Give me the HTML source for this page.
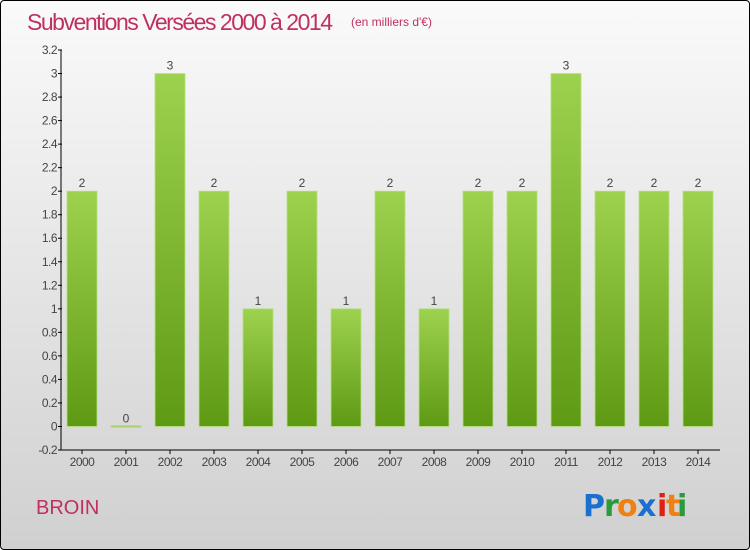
<!DOCTYPE html>
<html><head><meta charset="utf-8"><style>
html,body{margin:0;padding:0}
body{width:750px;height:550px;overflow:hidden;font-family:"Liberation Sans",sans-serif}
#wrap{position:absolute;left:0;top:0;width:748px;height:548px;border:1px solid #000;border-radius:4px;background:linear-gradient(#fafafa,#d0d0d0)}
</style></head><body>
<div id="wrap">
<svg width="750" height="550" style="position:absolute;left:-1px;top:-1px" id="svg">
<defs><linearGradient id="g" x1="0" y1="0" x2="0" y2="1"><stop offset="0" stop-color="#9dd24e"/><stop offset="1" stop-color="#5f9a14"/></linearGradient></defs>
<text x="27" y="30" font-size="23" fill="#c0305e" textLength="306">Subventions Versées 2000 à 2014</text>
<text x="351" y="26" font-size="12" fill="#c0305e">(en milliers d'€)</text>
<text x="36" y="514" font-size="20" fill="#c0305e">BROIN</text>
<g font-size="30" font-family="'DejaVu Sans',sans-serif" font-weight="bold">
<text x="583" y="516" fill="#1a6fd0">P</text><text x="604" y="516" fill="#2a9a3a">r</text><text x="617" y="516" fill="#f08010">o</text><text x="637" y="516" fill="#1a6fd0">x</text><text x="657" y="516" fill="#e02010">i</text><text x="666" y="516" fill="#f08010">t</text><text x="677" y="516" fill="#2a9a3a">i</text>
</g>
<g id="axes"></g><g id="bars"></g>
</svg></div>
<script>
const years=["2000","2001","2002","2003","2004","2005","2006","2007","2008","2009","2010","2011","2012","2013","2014"];
const values=[2,0,3,2,1,2,1,2,1,2,2,3,2,2,2];
const yTicks=["-0.2","0","0.2","0.4","0.6","0.8","1","1.2","1.4","1.6","1.8","2","2.2","2.4","2.6","2.8","3","3.2"];
(function(){
const NS="http://www.w3.org/2000/svg";
const yMin=-0.2,yMax=3.2,plotTop=50,plotBot=450;
function y(v){return plotBot-(v-yMin)/(yMax-yMin)*(plotBot-plotTop);}
function x(i){return 82+i*44;}
function mk(t,a,p){const e=document.createElementNS(NS,t);for(const k in a)e.setAttribute(k,a[k]);p.appendChild(e);return e;}
const ax=document.getElementById('axes'),bs=document.getElementById('bars');
const yl=mk('line',{x1:61,y1:plotTop,x2:61,y2:plotBot,stroke:'#000','stroke-width':1},ax);


const xl=mk('line',{x1:61,y1:plotBot,x2:720,y2:plotBot,stroke:'#000','stroke-width':1},ax);


yTicks.forEach(t=>{const v=parseFloat(t),yy=y(v);
mk('line',{x1:58,y1:yy,x2:62,y2:yy,stroke:'#000'},ax);
const tx=mk('text',{x:57,y:yy+4,'font-size':12,fill:'#444','text-anchor':'end','letter-spacing':'-0.5'},ax);tx.textContent=t;

});
years.forEach((yr,i)=>{const cx=x(i);
mk('line',{x1:cx,y1:plotBot,x2:cx,y2:plotBot+4,stroke:'#000'},ax);
const tx=mk('text',{x:cx,y:plotBot+16,'font-size':12,fill:'#444','text-anchor':'middle','letter-spacing':'-0.5'},ax);tx.textContent=yr;


const v=values[i];const y0=y(0),yv=y(v);
const h=Math.max(Math.abs(y0-yv),2);
const r=mk('rect',{x:cx-15,y:Math.min(y0,yv)-(v===0?1:0),width:30,height:h,fill:v===0?'#a8d070':'url(#g)',stroke:'#b5e080','stroke-width':0.8},bs);


const lb=mk('text',{x:cx,y:yv-4,'font-size':12,fill:'#444','text-anchor':'middle'},bs);lb.textContent=String(v);

});
})();
</script>
</body></html>
